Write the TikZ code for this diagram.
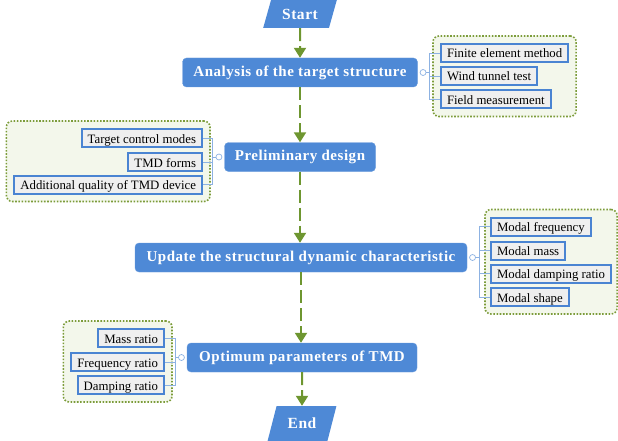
\documentclass[tikz,border=0pt]{standalone}
\usepackage{fontspec}
\setmainfont{Liberation Serif}
\newfontfamily\headfont[LetterSpace=3.5]{Liberation Serif}
\usetikzlibrary{positioning,shapes.geometric,arrows.meta,fit,backgrounds}
\definecolor{mainblue}{HTML}{4E89D6}
\definecolor{itemblue}{HTML}{4A84D2}
\definecolor{itemgray}{HTML}{EFEFEF}
\definecolor{groupgreen}{HTML}{7C9C3A}
\definecolor{groupfill}{HTML}{F3F7EB}
\definecolor{flowgreen}{HTML}{6E9630}
\definecolor{branchblue}{HTML}{8DB2E2}

\tikzset{
  mainbox/.style={rectangle, rounded corners=4pt, fill=mainblue, draw=mainblue!85!white,
    text=white, font=\headfont\bfseries\fontsize{15}{17}\selectfont, minimum height=29pt},
  termbox/.style={trapezium, trapezium left angle=65, trapezium right angle=115,
    trapezium stretches=true, fill=mainblue, text=white, inner sep=0pt,
    font=\headfont\bfseries\fontsize{15.5}{17}\selectfont},
  itembox/.style={rectangle, fill=itemgray, draw=itemblue, line width=2pt,
    font=\fontsize{12.8}{14}\selectfont, text height=11pt, text depth=1pt,
    minimum height=18pt, inner xsep=6pt, inner ysep=2pt},
  group/.style={draw=groupgreen, fill=groupfill, line width=1.6pt,
    dash pattern=on 1.6pt off 1.6pt, rounded corners=6pt, inner sep=7pt},
  flow/.style={draw=flowgreen, line width=2pt, dash pattern=on 13pt off 5pt,
    -{Triangle[width=12pt,length=10pt]}},
  branch/.style={draw=branchblue, line width=0.7pt},
  knob/.style={circle, draw=branchblue, fill=white, line width=0.7pt, minimum size=6pt, inner sep=0pt}
}

\begin{document}
\begin{tikzpicture}[x=1pt,y=-1pt]
  \useasboundingbox (0,0) rectangle (618,441);

  % flow chart
  \node[termbox, minimum width=74pt, minimum height=28pt] (start) at (300,14) {Start};
  \node[mainbox, minimum width=235pt] (a1) at (300,72.5) {Analysis of the target structure};
  \node[mainbox, minimum width=151pt] (a2) at (300,157) {Preliminary design};
  \node[mainbox, minimum width=332pt] (a3) at (301,257.5) {Update the structural dynamic characteristic};
  \node[mainbox, minimum width=230pt] (a4) at (302,357.5) {Optimum parameters of TMD};
  \node[termbox, minimum width=69pt, minimum height=35pt] (end) at (302,423.5) {End};

  \draw[flow] (start.south) -- (a1.north);
  \draw[flow] (a1.south) -- (a2.north);
  \draw[flow] (a2.south) -- (a2.south |- a3.north);
  \draw[flow] (a3.south) -- (a3.south |- a4.north);
  \draw[flow] (a4.south) -- (end.north);

  % knobs
  \node[knob, right=2pt of a1] (o1) {};
  \node[knob, left=2pt of a2] (o2) {};
  \node[knob, right=2pt of a3] (o3) {};
  \node[knob, left=2pt of a4] (o4) {};

  % items of the analysis
  \node[itembox, anchor=west] (f1) at (440,53) {Finite element method};
  \node[itembox, anchor=west] (f2) at (440,76) {Wind tunnel test};
  \node[itembox, anchor=west] (f3) at (440,99.5) {Field measurement};

  % items of the design
  \node[itembox, anchor=east] (t1) at (203,138) {Target control modes};
  \node[itembox, anchor=east] (t2) at (203,162) {TMD forms};
  \node[itembox, anchor=east] (t3) at (203,184.5) {Additional quality of TMD device};

  % modal items
  \node[itembox, anchor=west] (m1) at (490,226.5) {Modal frequency};
  \node[itembox, anchor=west] (m2) at (490,250.5) {Modal mass};
  \node[itembox, anchor=west] (m3) at (490,273.5) {Modal damping ratio};
  \node[itembox, anchor=west] (m4) at (490,297) {Modal shape};

  % TMD parameters
  \node[itembox, anchor=east] (p1) at (165,338) {Mass ratio};
  \node[itembox, anchor=east] (p2) at (165,362) {Frequency ratio};
  \node[itembox, anchor=east] (p3) at (165,385) {Damping ratio};

  \begin{scope}[on background layer]
    \node[group, fit=(f1)(f2)(f3)] (g1) {};
    \node[group, fit=(t1)(t2)(t3)] (g2) {};
    \node[group, inner xsep=5pt, fit=(m1)(m2)(m3)(m4)] (g3) {};
    \node[group, fit=(p1)(p2)(p3)] (g4) {};
  \end{scope}

  % branches
  \foreach \i in {f1,f2,f3} \draw[branch] (o1.east) -- ++(3,0) |- (\i.west);
  \foreach \i in {t1,t2,t3} \draw[branch] (o2.west) -- ++(-3,0) |- (\i.east);
  \foreach \i in {m1,m2,m3,m4} \draw[branch] (o3.east) -- ++(3,0) |- (\i.west);
  \foreach \i in {p1,p2,p3} \draw[branch] (o4.west) -- ++(-3,0) |- (\i.east);
\end{tikzpicture}
\end{document}
